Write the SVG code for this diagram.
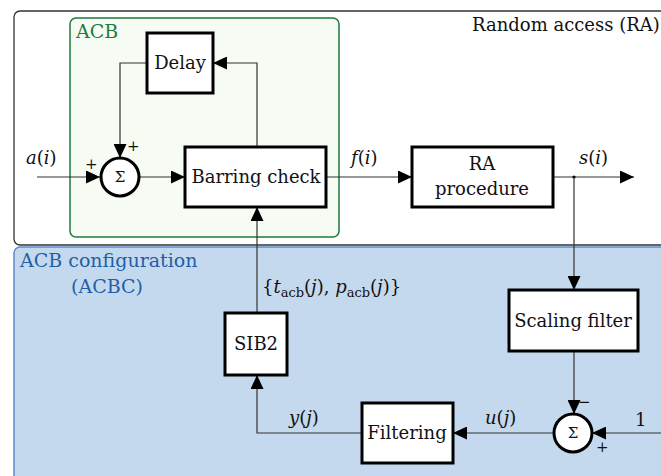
<svg xmlns="http://www.w3.org/2000/svg" width="661" height="476" viewBox="0 0 661 476">
<defs>
<marker id="ah" markerUnits="userSpaceOnUse" markerWidth="15" markerHeight="13" refX="14" refY="6.5" orient="auto">
<path d="M0,0 L14,6.5 L0,13 z" fill="#000"/>
</marker>
<style>
text{font-family:"DejaVu Serif","Liberation Serif",serif;font-size:18px;fill:#111}
.blk rect,.blk circle{fill:#fff;stroke:#000;stroke-width:3}
.c{text-anchor:middle}
.it{font-style:italic}
.wire{fill:none;stroke:#333;stroke-width:1.2;marker-end:url(#ah)}
.sm{font-size:15px}
.sub{font-size:13px}
</style>
</defs>
<rect width="661" height="476" fill="#fff"/>
<g id="ra-region">
<rect x="14" y="11" width="700" height="234" rx="6" fill="#fff" stroke="#333" stroke-width="1.3"/>
<text x="472" y="31">Random access (RA)</text>
</g>
<g id="acbc-region">
<rect x="14" y="247" width="700" height="260" rx="6" fill="#c5d9ee" stroke="#5b8ccc" stroke-width="1.5"/>
<text x="20" y="267" style="fill:#1f5fa8;font-size:19px">ACB configuration</text>
<text x="71" y="293" style="fill:#1f5fa8;font-size:19px">(ACBC)</text>
</g>
<g id="acb-region">
<rect x="70" y="18" width="269" height="219" rx="6" fill="#f6fbf4" stroke="#1e7b3c" stroke-width="1.5"/>
<text x="76" y="38" style="fill:#1e7b3c;font-size:19px">ACB</text>
</g>
<g id="connectors">
<path class="wire" d="M37,177 H100"/>
<path class="wire" d="M147,63 H120 V158"/>
<path class="wire" d="M139,177 H185"/>
<path class="wire" d="M257,147 V63 H213"/>
<path class="wire" d="M326,177 H412"/>
<path class="wire" d="M553,177 H634"/>
<circle cx="574" cy="177" r="1.6" fill="#000"/>
<path class="wire" d="M574,177 V290"/>
<path class="wire" d="M574,351 V414"/>
<path class="wire" d="M661,433 H592"/>
<path class="wire" d="M554,433 H453"/>
<path class="wire" d="M362,433 H257 V375"/>
<path class="wire" d="M257,313 V207"/>
</g>
<g id="labels">
<text x="26" y="164"><tspan class="it">a</tspan>(<tspan class="it">i</tspan>)</text>
<text x="85" y="169" class="sm">+</text>
<text x="127" y="151" class="sm">+</text>
<text x="351" y="164"><tspan class="it">f</tspan>(<tspan class="it">i</tspan>)</text>
<text x="579" y="164"><tspan class="it">s</tspan>(<tspan class="it">i</tspan>)</text>
<text x="262" y="293">{<tspan class="it">t</tspan><tspan class="sub" dy="4">acb</tspan><tspan dy="-4">(</tspan><tspan class="it">j</tspan>), <tspan class="it">p</tspan><tspan class="sub" dy="4">acb</tspan><tspan dy="-4">(</tspan><tspan class="it">j</tspan>)}</text>
<text x="289" y="424"><tspan class="it">y</tspan>(<tspan class="it">j</tspan>)</text>
<text x="485" y="424"><tspan class="it">u</tspan>(<tspan class="it">j</tspan>)</text>
<text x="635" y="426">1</text>
<text x="578" y="407" class="sm">−</text>
<text x="596" y="452" class="sm">+</text>
</g>
<g id="delay" class="blk"><rect x="147" y="33" width="66" height="60"/><text x="180" y="69" class="c">Delay</text></g>
<g id="sum1" class="blk"><circle cx="120" cy="177" r="19"/><text x="120" y="182" class="c sm">Σ</text></g>
<g id="barring" class="blk"><rect x="185" y="147" width="141" height="60"/><text x="256" y="183" class="c">Barring check</text></g>
<g id="ra-proc" class="blk"><rect x="412" y="147" width="141" height="60"/><text x="482" y="170" class="c">RA</text><text x="482" y="195" class="c">procedure</text></g>
<g id="scaling" class="blk"><rect x="509" y="290" width="129" height="61"/><text x="573" y="327" class="c">Scaling filter</text></g>
<g id="sum2" class="blk"><circle cx="573" cy="433" r="19"/><text x="573" y="438" class="c sm">Σ</text></g>
<g id="filtering" class="blk"><rect x="362" y="403" width="91" height="60"/><text x="407" y="439" class="c">Filtering</text></g>
<g id="sib2" class="blk"><rect x="225" y="313" width="62" height="62"/><text x="256" y="350" class="c">SIB2</text></g>
</svg>
